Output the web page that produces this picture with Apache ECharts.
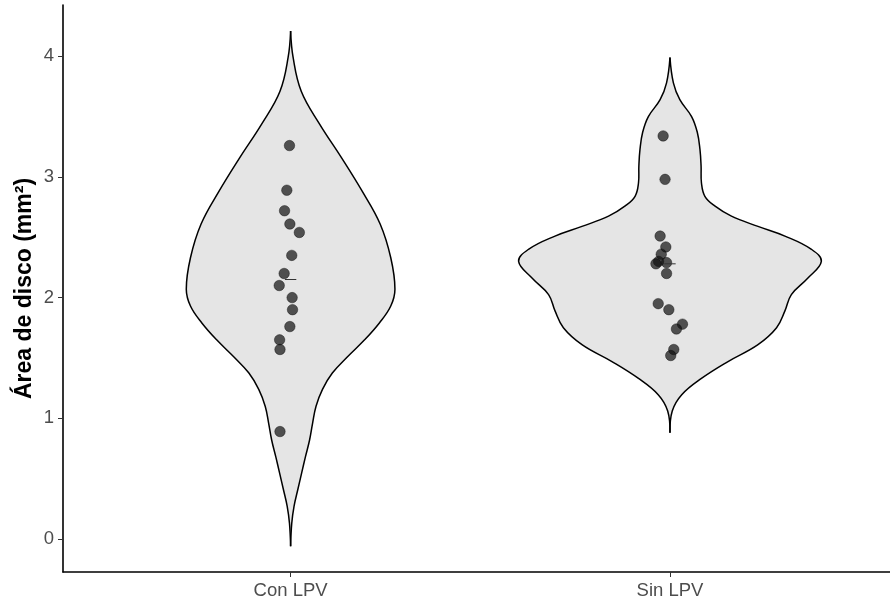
<!DOCTYPE html>
<html>
<head>
<meta charset="utf-8">
<script src="https://cdn.jsdelivr.net/npm/echarts@6/dist/echarts.min.js"></script>
<style>
  html, body { margin: 0; padding: 0; background: #fff; }
  #chart { width: 890px; height: 603px; }
</style>
</head>
<body>
<div id="chart"></div>
<script>
// categorias
const categories = ['Con LPV', 'Sin LPV'];
const yTicks = [0, 1, 2, 3, 4];

// contorno del violin (nivel y, media anchura en unidades del eje x)
const conLevels = [4.21, 3.99, 3.71, 3.44, 3.16, 2.88, 2.61, 2.33, 2.07, 1.93, 1.79, 1.65, 1.51, 1.375, 1.24, 1.10, 0.96, 0.82, 0.68, 0.545, 0.41, 0.27, 0.13, -0.06];
const conHalf = [0, 0.0066, 0.028, 0.076, 0.134, 0.189, 0.236, 0.264, 0.275, 0.264, 0.234, 0.195, 0.15, 0.11, 0.084, 0.067, 0.058, 0.05, 0.039, 0.029, 0.019, 0.009, 0.003, 0];
const sinLevels = [3.99, 3.78, 3.64, 3.50, 3.37, 3.23, 3.09, 2.95, 2.84, 2.76, 2.675, 2.59, 2.51, 2.40, 2.30, 2.16, 2.025, 1.89, 1.75, 1.61, 1.47, 1.33, 1.195, 1.06, 0.88];
const sinHalf = [0, 0.009, 0.026, 0.057, 0.072, 0.079, 0.082, 0.083, 0.092, 0.118, 0.162, 0.232, 0.303, 0.373, 0.399, 0.363, 0.32, 0.303, 0.281, 0.232, 0.153, 0.083, 0.031, 0.006, 0];

// puntos
const conValues = [3.26, 2.89, 2.72, 2.61, 2.54, 2.35, 2.20, 2.10, 2.00, 1.90, 1.76, 1.65, 1.57, 0.89];
const conJitter = [-0.003, -0.010, -0.016, -0.002, 0.023, 0.003, -0.017, -0.030, 0.004, 0.005, -0.002, -0.029, -0.028, -0.028];
const sinValues = [3.34, 2.98, 2.51, 2.42, 2.36, 2.30, 2.28, 2.29, 2.20, 1.95, 1.90, 1.78, 1.74, 1.57, 1.52];
const sinJitter = [-0.018, -0.013, -0.026, -0.011, -0.023, -0.030, -0.037, -0.009, -0.009, -0.031, -0.003, 0.033, 0.017, 0.010, 0.002];

// medianas
const medians = [2.15, 2.28];

const profiles = [
    { levels: conLevels, half: conHalf },
    { levels: sinLevels, half: sinHalf }
];

const chart = echarts.init(document.getElementById('chart'));

const pointData = [];
conValues.forEach((v, i) => pointData.push([1 + conJitter[i], v]));
sinValues.forEach((v, i) => pointData.push([2 + sinJitter[i], v]));

const option = {
    animation: false,
    grid: { left: 63, top: 5, right: 0, bottom: 31 },
    xAxis: {
        type: 'value',
        min: 0.4,
        max: 2.58,
        splitLine: { show: false },
        axisLine: { onZero: false, lineStyle: { color: '#000', width: 1.6 } },
        axisTick: { customValues: [1, 2], length: 5, lineStyle: { color: '#333' } },
        axisLabel: {
            customValues: [1, 2],
            formatter: (v) => categories[Math.round(v) - 1],
            color: '#4d4d4d',
            fontSize: 18.5,
            fontFamily: 'Liberation Sans',
            margin: 9
        }
    },
    yAxis: {
        type: 'value',
        min: -0.274,
        max: 4.425,
        name: 'Área de disco (mm²)',
        nameLocation: 'middle',
        nameGap: 27,
        nameMoveOverlap: false,
        nameTextStyle: { color: '#000', fontSize: 23, fontWeight: 'bold', fontFamily: 'Liberation Sans' },
        splitLine: { show: false },
        axisLine: { onZero: false, lineStyle: { color: '#000', width: 1.6 } },
        axisTick: { customValues: yTicks, length: 5, lineStyle: { color: '#333' } },
        axisLabel: {
            customValues: yTicks,
            color: '#4d4d4d',
            fontSize: 18.5,
            fontFamily: 'Liberation Sans',
            margin: 9
        }
    },
    series: [
        {
            type: 'custom',
            z: 1,
            data: [[1], [2]],
            renderItem: (params, api) => {
                const x0 = api.value(0);
                const p = profiles[params.dataIndex];
                const right = p.levels.map((v, k) => api.coord([x0 + p.half[k], v]));
                const left = p.levels.map((v, k) => api.coord([x0 - p.half[k], v]));
                const poly = right.concat(left.slice().reverse());
                return {
                    type: 'group',
                    children: [
                        { type: 'polygon', shape: { points: poly, smooth: 0.4 }, style: { fill: '#e5e5e5', stroke: null } },
                        { type: 'polyline', shape: { points: right, smooth: 0.4 }, style: { fill: null, stroke: '#000', lineWidth: 1.5 } },
                        { type: 'polyline', shape: { points: left, smooth: 0.4 }, style: { fill: null, stroke: '#000', lineWidth: 1.5 } }
                    ]
                };
            }
        },
        {
            type: 'scatter',
            z: 2,
            symbolSize: 10.5,
            data: pointData,
            itemStyle: { color: 'rgba(15,15,15,0.88)', borderColor: 'rgba(0,0,0,0.7)', borderWidth: 0.7 }
        },
        {
            type: 'custom',
            z: 3,
            data: [[1, medians[0]], [2, medians[1]]],
            renderItem: (params, api) => {
                const a = api.coord([api.value(0) - 0.015, api.value(1)]);
                const b = api.coord([api.value(0) + 0.015, api.value(1)]);
                return {
                    type: 'line',
                    shape: { x1: a[0], y1: a[1], x2: b[0], y2: b[1] },
                    style: { stroke: '#333', lineWidth: 1 }
                };
            }
        }
    ]
};

chart.setOption(option);
</script>
</body>
</html>
